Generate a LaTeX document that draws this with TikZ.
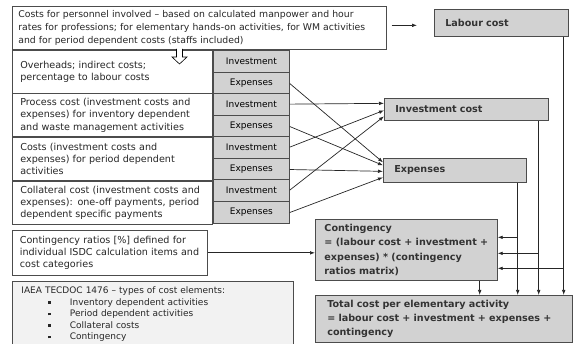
\documentclass[tikz,border=0pt]{standalone}
\usepackage{fontspec}
\setmainfont{DejaVu Sans}
\usetikzlibrary{matrix, positioning, calc, arrows.meta}
\newcommand{\costbul}{\hspace*{27pt}\rule[1.5pt]{2.6pt}{2.6pt}\hspace*{19pt}}
\tikzset{
	txtbox/.style={
		draw=black!70,
		fill=white,
		text=black!85,
		align=left,
		anchor=north west,
		inner xsep=9pt,
		inner ysep=0pt,
		font=\fontsize{9.6}{12.2}\selectfont
	},
	rowbox/.style={
		txtbox,
		text width=184pt,
		inner xsep=8pt,
		minimum height=43pt
	},
	sumbox/.style={
		draw=black!70,
		fill=gray!35,
		text=black!80,
		align=left,
		anchor=north west,
		inner xsep=11pt,
		inner ysep=0pt,
		font=\bfseries\fontsize{9.6}{14.5}\selectfont
	},
	cell/.style={
		draw=black!70,
		fill=gray!35,
		inner sep=0pt,
		minimum width=76pt,
		minimum height=21.5pt,
		font=\fontsize{9}{11}\selectfont
	},
	layer/.style={
		matrix of nodes,
		nodes={cell},
		inner sep=0pt,
		row sep={between origins, 21.5pt},
		nodes in empty cells
	}
}

\begin{document}
\begin{tikzpicture}[x=1pt, y=-1pt, line width=0.7pt, >={Latex[length=5pt, width=3.6pt]}]
	\useasboundingbox (0,0) rectangle (574,344);

	% personnel costs and the cost table
	\node[txtbox, text width=362pt, inner xsep=6pt, minimum height=43pt, font=\fontsize{9.3}{13}\selectfont] (pers) at (12,6) {Costs for personnel involved -- based on calculated manpower and hour\\ rates for professions; for elementary hands-on activities, for WM activities\\ and for period dependent costs (staffs included)};

	\node[rowbox, below=0pt of pers.south west, anchor=north west] (ovh) {Overheads; indirect costs;\\ percentage to labour costs};
	\node[rowbox, below=0pt of ovh.south west, anchor=north west] (proc) {Process cost (investment costs and\\ expenses) for inventory dependent\\ and waste management activities};
	\node[rowbox, below=0pt of proc.south west, anchor=north west] (perd) {Costs (investment costs and\\ expenses) for period dependent\\ activities};
	\node[rowbox, below=0pt of perd.south west, anchor=north west] (coll) {Collateral cost (investment costs and\\ expenses): one-off payments, period\\ dependent specific payments};

	\matrix[layer, anchor=north west] (cost) at (ovh.north east) {
		Investment\\
		Expenses\\
		Investment\\
		Expenses\\
		Investment\\
		Expenses\\
		Investment\\
		Expenses\\
	};

	% hollow arrow under the personnel box
	\draw[line width=0.6pt, fill=white] (176.5,49) -- (176.5,57) -- (172,57) -- (179.5,64) -- (187,57) -- (182.5,57) -- (182.5,49);

	% result boxes
	\node[sumbox, text width=112pt, minimum height=27pt] (labour) at (434,9) {Labour cost};
	\node[sumbox, text width=142pt, minimum height=22pt] (invc) at (384,98) {Investment cost};
	\node[sumbox, text width=121pt, minimum height=24pt] (expn) at (383,158) {Expenses};
	\node[sumbox, inner xsep=0pt, minimum width=182pt, minimum height=61pt] (cont) at (315,219) {Contingency\\ = (labour cost + investment +\\ expenses) * (contingency\\ ratios matrix)};
	\node[sumbox, text width=233pt, inner xsep=12pt, minimum height=47pt, font=\bfseries\fontsize{9.6}{14}\selectfont] (total) at (315,295) {Total cost per elementary activity\\ = labour cost + investment + expenses +\\ contingency};

	% contingency ratios and legend
	\node[txtbox, text width=180pt, inner xsep=7.5pt, minimum height=45pt] (ratio) at (12,230) {Contingency ratios [\%] defined for\\ individual ISDC calculation items and\\ cost categories};
	\node[txtbox, fill=gray!10, text width=263pt, minimum height=66pt, font=\fontsize{9}{11.5}\selectfont] (iaea) at (12,281) {IAEA TECDOC 1476 -- types of cost elements:\\
		\costbul Inventory dependent activities\\
		\costbul Period dependent activities\\
		\costbul Collateral costs\\
		\costbul Contingency};

	% connectors
	\begin{scope}[->, black!85]
		\coordinate (persout) at ([xshift=5pt, yshift=2.5pt]pers.east);
		\draw (persout) -- ($(persout -| labour.west)+(-17,0)$);

		% table cells -> investment / expenses
		\foreach \r/\s in {3/6, 5/-1, 7/-7} {
			\draw (cost-\r-1.east) -- ([yshift=\s pt]invc.west);
		}
		\foreach \r/\s in {2/8, 4/5, 6/-1, 8/-7} {
			\draw (cost-\r-1.east) -- ([yshift=\s pt]expn.west);
		}

		% drops to the total
		\coordinate (labdrop) at ([xshift=-5pt]labour.south east);
		\coordinate (invdrop) at ([xshift=-10pt]invc.south east);
		\coordinate (expdrop) at ([xshift=-9pt]expn.south east);
		\coordinate (contdrop) at ([xshift=-18pt]cont.south east);
		\foreach \d in {labdrop, invdrop, expdrop, contdrop} {
			\draw (\d) -- (\d |- total.north);
		}

		% branches into the contingency
		\coordinate (cin1) at ([yshift=12.5pt]cont.east);
		\coordinate (cin2) at ([yshift=-3.5pt]cont.east);
		\coordinate (cin3) at ([yshift=-18.5pt]cont.east);
		\draw (expdrop |- cin1) -- (cin1);
		\draw (invdrop |- cin2) -- (cin2);
		\draw (labdrop |- cin3) -- (cin3);

		\draw (ratio.east) -- (ratio.east -| cont.west);
	\end{scope}
\end{tikzpicture}
\end{document}
